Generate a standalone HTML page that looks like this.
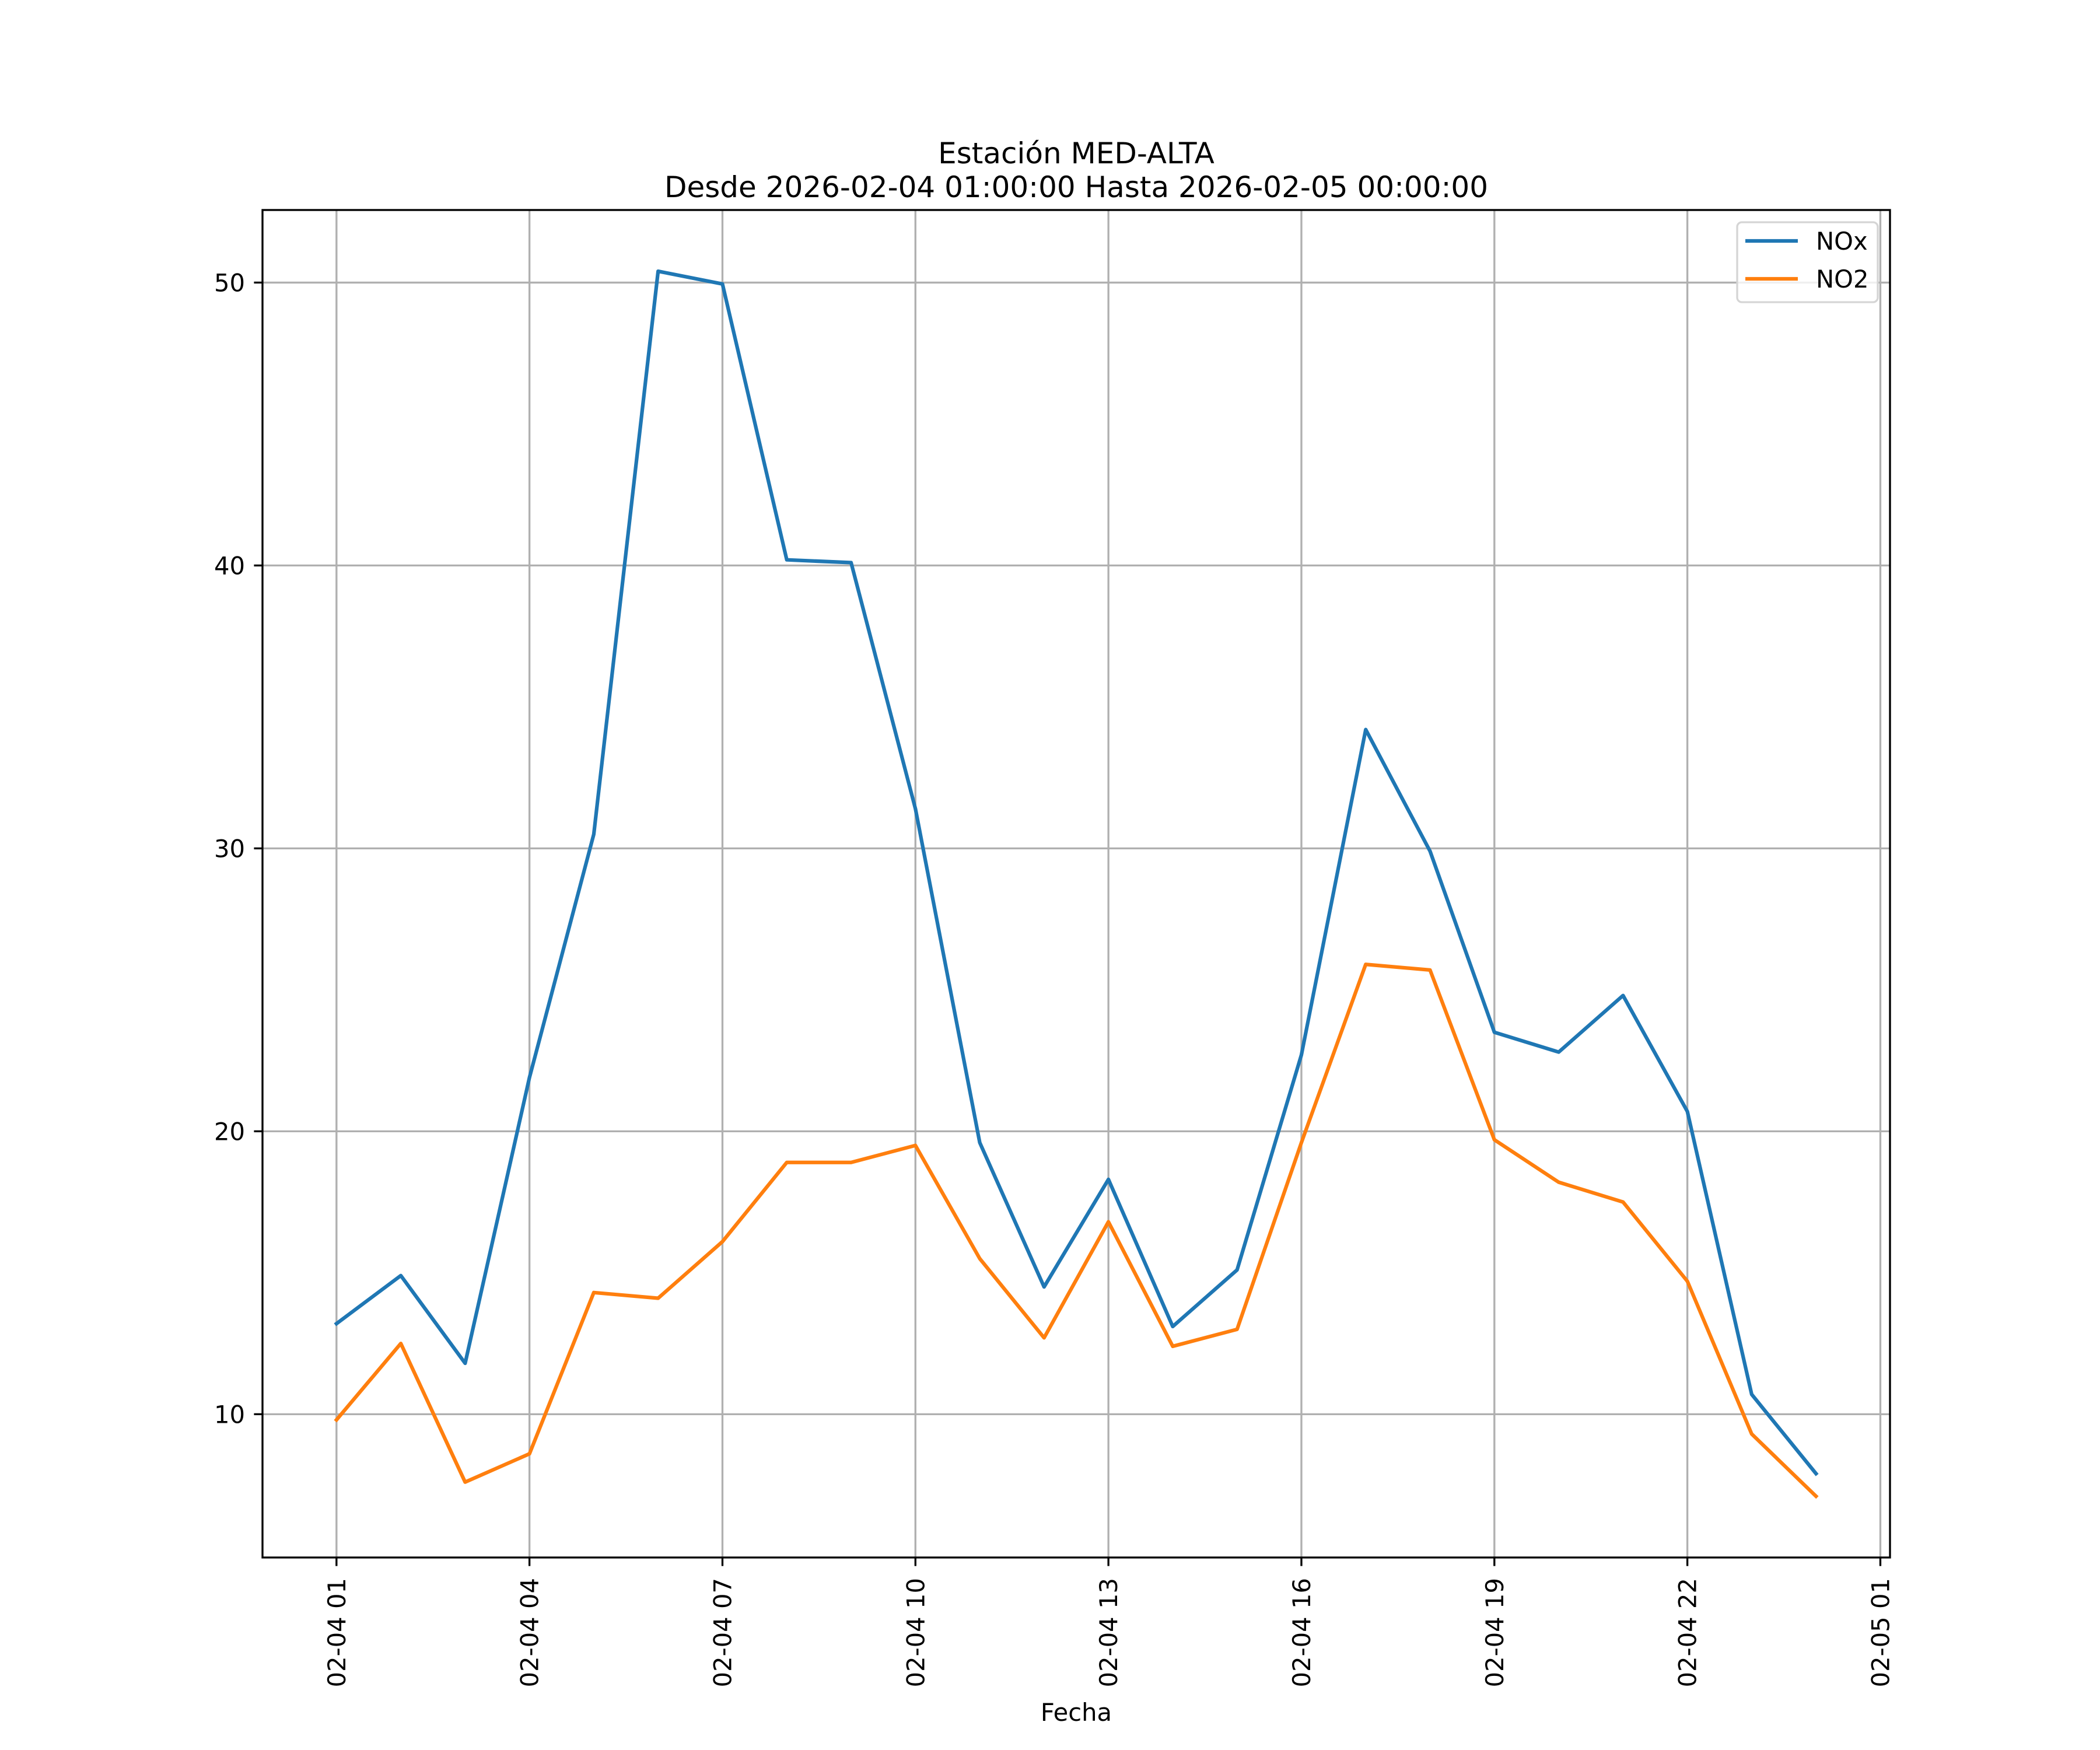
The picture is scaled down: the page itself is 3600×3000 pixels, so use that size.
<!DOCTYPE html>
<html><head><meta charset="utf-8"><style>html,body{margin:0;padding:0;background:#fff}svg{display:block}text{font-family:"DejaVu Sans","Liberation Sans",sans-serif;fill:#000}</style></head>
<body>
<svg id="chart" width="3600" height="3000" viewBox="0 0 3600 3000" xmlns="http://www.w3.org/2000/svg">
<rect width="3600" height="3000" fill="#fff"/>
<g id="grid"></g>
<g id="series"></g>
<rect x="450" y="360" width="2790" height="2310" fill="none" stroke="#000" stroke-width="3.33"/>
<g id="ticks"></g>
<text x="1845" y="280" font-size="50" text-anchor="middle">Estación MED-ALTA</text>
<text x="1845" y="338" font-size="50" text-anchor="middle">Desde 2026-02-04 01:00:00 Hasta 2026-02-05 00:00:00</text>
<text x="1845" y="2950" font-size="41.7" text-anchor="middle">Fecha</text>
<g>
<rect x="2978" y="381" width="241" height="137" rx="8" fill="#fff" fill-opacity="0.8" stroke="#d5d5d5" stroke-width="3.33"/>
<line x1="2992" y1="413" x2="3082" y2="413" stroke="#1f77b4" stroke-width="6.25"/>
<text x="3113" y="428" font-size="41.7">NOx</text>
<line x1="2992" y1="478" x2="3082" y2="478" stroke="#ff7f0e" stroke-width="6.25"/>
<text x="3113" y="493" font-size="41.7">NO2</text>
</g>
</svg>
<script>
const hours = [1,2,3,4,5,6,7,8,9,10,11,12,13,14,15,16,17,18,19,20,21,22,23,24];
const noxValues = [13.2,14.9,11.8,21.9,30.5,50.4,49.95,40.2,40.1,31.4,19.6,14.5,18.3,13.1,15.1,22.7,34.2,29.9,23.5,22.8,24.8,20.7,10.7,7.9];
const no2Values = [9.8,12.5,7.6,8.6,14.3,14.1,16.1,18.9,18.9,19.5,15.5,12.7,16.8,12.4,13.0,19.6,25.9,25.7,19.7,18.2,17.5,14.7,9.3,7.1];
const xTickHours = [1,4,7,10,13,16,19,22,25];
const xTickLabels = ["02-04 01","02-04 04","02-04 07","02-04 10","02-04 13","02-04 16","02-04 19","02-04 22","02-05 01"];
const yTicks = [10,20,30,40,50];

const NS="http://www.w3.org/2000/svg";
const L=450,R=3240,T=360,B=2670;
const all=noxValues.concat(no2Values);
const ymin0=Math.min(...all), ymax0=Math.max(...all), yr=ymax0-ymin0;
const y0=ymin0-0.05*yr, y1=ymax0+0.05*yr;
const hmin=Math.min(...hours), hmax=Math.max(...hours), hr=hmax-hmin;
const x0=hmin-0.05*hr, x1=hmax+0.05*hr;
const sx=h=>L+(h-x0)/(x1-x0)*(R-L);
const sy=v=>B-(v-y0)/(y1-y0)*(B-T);
function mk(tag,attrs,parent){const e=document.createElementNS(NS,tag);for(const k in attrs)e.setAttribute(k,attrs[k]);parent.appendChild(e);return e;}
const grid=document.getElementById('grid'), ticks=document.getElementById('ticks'), series=document.getElementById('series');
xTickHours.forEach((h,i)=>{
  const x=sx(h);
  const g=mk('line',{x1:x,y1:T,x2:x,y2:B,stroke:'#b0b0b0','stroke-width':3.33},grid);
  
  
  const t=mk('line',{x1:x,y1:B,x2:x,y2:B+14.6,stroke:'#000','stroke-width':3.33},ticks);
  
  
  const tx=mk('text',{x:0,y:0,'font-size':41.7,'text-anchor':'end',transform:`translate(${x+15},${B+35}) rotate(-90)`},ticks);
  tx.textContent=xTickLabels[i];
  
  
});
yTicks.forEach(v=>{
  const y=sy(v);
  const g=mk('line',{x1:L,y1:y,x2:R,y2:y,stroke:'#b0b0b0','stroke-width':3.33},grid);
  
  
  const t=mk('line',{x1:L-14.6,y1:y,x2:L,y2:y,stroke:'#000','stroke-width':3.33},ticks);
  
  
  const tx=mk('text',{x:L-30,y:y+15,'font-size':41.7,'text-anchor':'end'},ticks);
  tx.textContent=String(v);
  
  
});
function line(vals,color,name){
  const p=mk('polyline',{points:vals.map((v,i)=>sx(hours[i])+','+sy(v)).join(' '),fill:'none',stroke:color,'stroke-width':6.25,'stroke-linejoin':'round','stroke-linecap':'square'},series);
  
  
}
line(noxValues,'#1f77b4','nox-line');
line(no2Values,'#ff7f0e','no2-line');
</script>
</body></html>
